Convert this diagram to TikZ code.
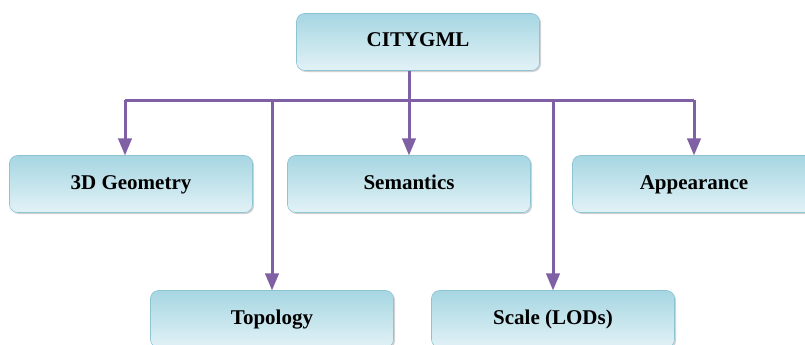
\documentclass[tikz,border=0pt]{standalone}
\usepackage{fontspec}
\setmainfont{Liberation Serif}
\usepackage{tikz}
\usetikzlibrary{arrows,shadows}
\definecolor{link}{RGB}{128,96,164}
\definecolor{boxtop}{RGB}{166,214,226}
\definecolor{boxbot}{RGB}{226,242,246}
\definecolor{boxline}{RGB}{140,196,212}

\begin{document}
\begin{tikzpicture}[x=1pt,y=-1pt,
	part/.style={draw=boxline,line width=0.6pt,rounded corners=8pt,
		top color=boxtop,bottom color=boxbot,
		drop shadow={shadow xshift=1.5pt,shadow yshift=-1.5pt,fill=black!35},
		minimum width=243pt,minimum height=57pt,inner sep=0pt,
		text height=14pt,text depth=4pt,
		font=\bfseries\fontsize{21}{25}\selectfont},
	link/.style={draw=link,line width=3pt},
	arr/.style={link,-triangle 45}]
	\useasboundingbox (0,0) rectangle (805,345);
	\node[part] (city)  at (418,42)  {CITYGML};
	\node[part] (geom)  at (131,184) {3D Geometry};
	\node[part] (sem)   at (409,184) {Semantics};
	\node[part] (app)   at (694,184) {Appearance};
	\node[part] (topo)  at (272,319) {Topology};
	\node[part] (scale) at (553,319) {Scale (LODs)};
	\coordinate (hub) at (409,100);
	\draw[link] (city.south -| hub) -- (hub);
	\draw[link] ([xshift=-6pt]geom.north |- hub) -- (app.north |- hub);
	\draw[arr] ([xshift=-6pt]geom.north |- hub) -- ([xshift=-6pt]geom.north);
	\draw[arr] (hub) -- (sem.north);
	\draw[arr] (app.north |- hub) -- (app.north);
	\draw[arr] (topo.north |- hub) -- (topo.north);
	\draw[arr] (scale.north |- hub) -- (scale.north);
\end{tikzpicture}
\end{document}
